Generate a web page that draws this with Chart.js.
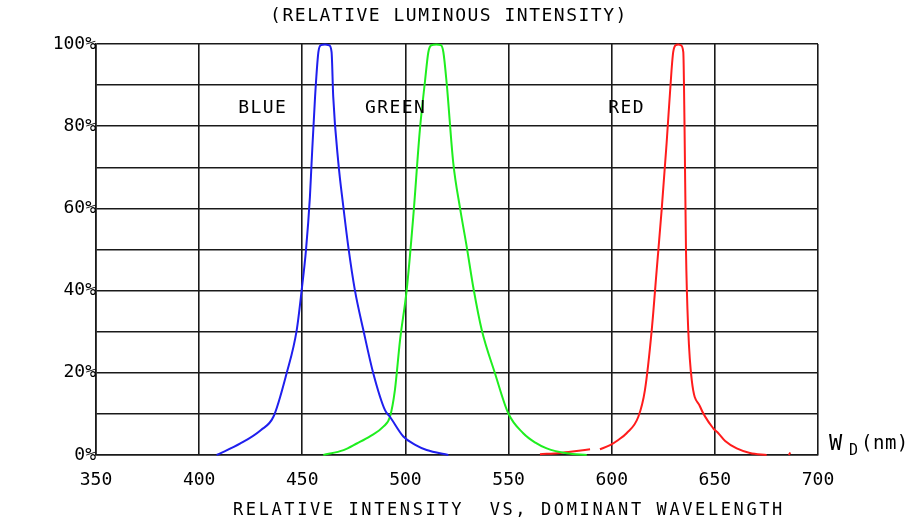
<!DOCTYPE html>
<html>
<head>
<meta charset="utf-8">
<script src="https://cdn.jsdelivr.net/npm/chart.js@4.4.1/dist/chart.umd.min.js"></script>
<style>
  html, body { margin: 0; padding: 0; background: #fff; }
  #wrap { width: 917px; height: 527px; }
</style>
</head>
<body>
<div id="wrap"><canvas id="spectrum" width="917" height="527"></canvas></div>
<script>
// wavelength (nm) / relative intensity (%)
const blueNm = [408.5, 420, 430, 436, 442.4, 447.3, 449.7, 451.8, 453.7, 454.5, 456.2, 457.8, 459, 461, 463, 464.2, 465, 467.5, 469.9, 472.3, 475.5, 479.6, 484.4, 490.1, 492.5, 499, 505, 510.3, 520.8];
const bluePct = [0, 2.8, 6.1, 9.3, 19.9, 30.4, 40.1, 49.9, 62.8, 71, 87.2, 98, 99.7, 99.9, 99.7, 98, 87.2, 71, 60.4, 50.7, 40.1, 30.4, 19.9, 10.9, 9.3, 4.5, 2.4, 1.2, 0];

const greenNm = [460.2, 470, 476.4, 483, 489.3, 492.5, 494.9, 497.4, 500.6, 503.8, 507, 509.5, 511.1, 512.5, 515, 517.2, 518.4, 520, 523.2, 526.5, 529.7, 533, 537, 543.4, 549.9, 557.1, 563, 568.5, 578.2, 587.9];
const greenPct = [0, 1.2, 2.8, 4.6, 6.9, 9.3, 15.8, 28, 40.1, 58, 79.1, 91, 98, 99.7, 99.9, 99.7, 98, 90.4, 71, 60, 50.7, 40.5, 30.4, 19.9, 10.1, 5.3, 3, 1.6, 0.4, 0];

const redNm = [565.2, 575, 582, 589.5, 592, 594.3, 599.2, 603, 607.2, 612.9, 616.1, 619.4, 621.8, 624.2, 626.6, 629, 629.8, 631, 632.3, 633.5, 634.7, 635.3, 636, 637.1, 638.8, 642.8, 649.2, 651.7, 655, 660.6, 667, 675.1, 680, 685.8, 686.6];
const redPct = [0.2, 0.5, 0.9, 1.4, null, 1.4, 2.4, 3.6, 5.3, 9.3, 15.8, 30.4, 45, 59.6, 75.8, 93.6, 98, 99.7, 99.9, 99.7, 98, 80, 50, 30.4, 18.2, 11.8, 6.5, 5.3, 3.4, 1.6, 0.5, 0, null, 0, 0.6];

const xTicks = [350, 400, 450, 500, 550, 600, 650, 700];
const yLabelEvery = 20;

const curveLabels = [
  { text: "BLUE", nm: 419, pct: 84.4 },
  { text: "GREEN", nm: 480.4, pct: 84.4 },
  { text: "RED", nm: 598.3, pct: 84.4 },
];

const topTitle = "(RELATIVE LUMINOUS INTENSITY)";
const bottomTitle = "RELATIVE INTENSITY  VS, DOMINANT WAVELENGTH";

const FONT = "'DejaVu Sans Mono', monospace";

function toPoints(xs, ys) {
  return xs.map((x, i) => ({ x: x, y: ys[i] }));
}

function curve(label, xs, ys, color) {
  return {
    label: label,
    data: toPoints(xs, ys),
    borderColor: color,
    borderWidth: 2,
    pointRadius: 0,
    fill: false,
    spanGaps: false,
    cubicInterpolationMode: "monotone",
    clip: false,
  };
}

// text that sits on the chart but is not an axis label
const textPlugin = {
  id: "cadText",
  afterDraw(chart) {
    const ctx = chart.ctx;
    const xs = chart.scales.x;
    const ys = chart.scales.y;
    ctx.save();
    ctx.fillStyle = "#000";
    ctx.textBaseline = "middle";

    ctx.font = "18px " + FONT;
    ctx.letterSpacing = "1.5px";
    ctx.textAlign = "center";
    ctx.fillText(topTitle, 449, 16);

    ctx.textAlign = "left";
    ctx.letterSpacing = "1.4px";
    curveLabels.forEach((l) => {
      ctx.fillText(l.text, xs.getPixelForValue(l.nm), ys.getPixelForValue(l.pct));
    });

    ctx.letterSpacing = "2.6px";
    ctx.font = "17px " + FONT;
    ctx.fillText(bottomTitle, 233, 511);

    // W_D(nm) at the end of the x axis
    ctx.letterSpacing = "0px";
    const ax = xs.right + 11;
    const ay = ys.bottom - 11;
    ctx.font = "22px " + FONT;
    ctx.fillText("W", ax, ay);
    ctx.font = "15px " + FONT;
    ctx.fillText("D", ax + 20, ay + 7);
    ctx.font = "19px " + FONT;
    ctx.letterSpacing = "0.5px";
    ctx.fillText("(nm)", ax + 32, ay);
    ctx.restore();
  },
};

const chart = new Chart(document.getElementById("spectrum").getContext("2d"), {
  type: "line",
  data: {
    datasets: [
      curve("BLUE", blueNm, bluePct, "#1f1fee"),
      curve("GREEN", greenNm, greenPct, "#1fee1f"),
      curve("RED", redNm, redPct, "#ff1c1c"),
    ],
  },
  options: {
    responsive: false,
    animation: false,
    devicePixelRatio: 1,
    layout: { padding: { top: 44, right: 99, left: 0, bottom: 0 } },
    plugins: {
      legend: { display: false },
      tooltip: { enabled: false },
      title: { display: false },
    },
    scales: {
      x: {
        type: "linear",
        min: xTicks[0],
        max: xTicks[xTicks.length - 1],
        afterBuildTicks: (scale) => {
          scale.ticks = xTicks.map((v) => ({ value: v }));
        },
        afterFit: (scale) => {
          scale.height = 72;
        },
        ticks: {
          color: "#000",
          font: { family: FONT, size: 18 },
          padding: 15,
          maxRotation: 0,
        },
        grid: { color: "#1a1a1a", lineWidth: 1.6, drawTicks: false },
        border: { color: "#1a1a1a", width: 1.6 },
      },
      y: {
        min: 0,
        max: 100,
        ticks: {
          stepSize: 10,
          color: "#000",
          font: { family: FONT, size: 18 },
          padding: 0,
          callback: (v) => (v % yLabelEvery === 0 ? v + "%" : ""),
        },
        afterFit: (scale) => {
          scale.width = 96;
        },
        grid: { color: "#1a1a1a", lineWidth: 1.6, drawTicks: false },
        border: { color: "#1a1a1a", width: 1.6 },
      },
    },
  },
  plugins: [textPlugin],
});
</script>
</body>
</html>
